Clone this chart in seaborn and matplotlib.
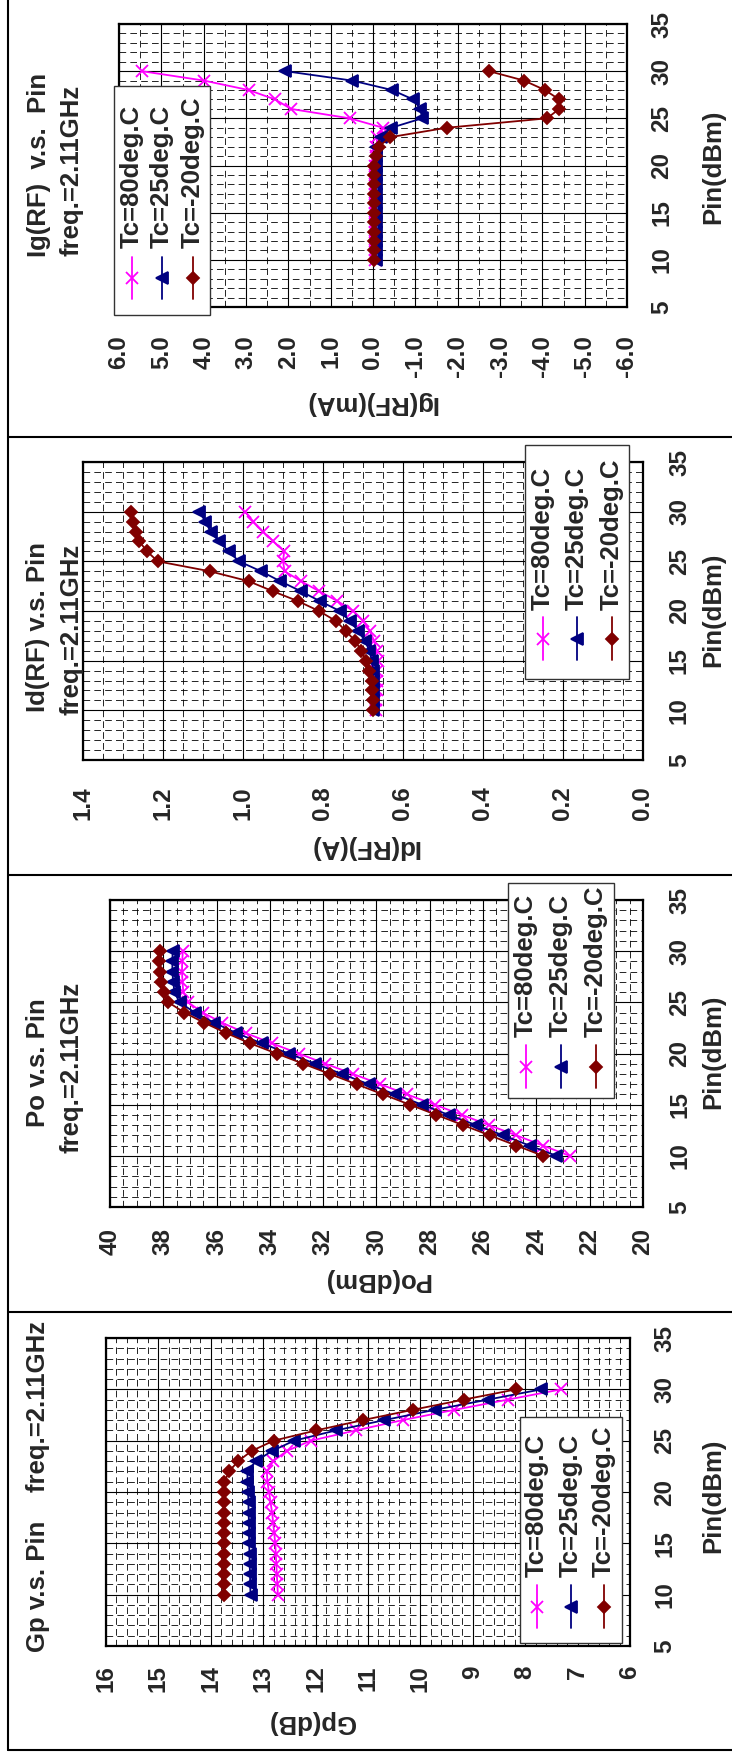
import matplotlib
matplotlib.use('Agg')
import matplotlib.pyplot as plt
from matplotlib.lines import Line2D
from matplotlib.patches import Rectangle
from matplotlib.ticker import MultipleLocator, FormatStrFormatter
import seaborn as sns

# input power sweep (dBm)
pin = [10, 11, 12, 13, 14, 15, 16, 17, 18, 19, 20,
       21, 22, 23, 24, 25, 26, 27, 28, 29, 30]

# Ig(RF) (mA)
ig_80 = [-0.04, -0.04, -0.04, -0.04, -0.04, -0.04, -0.04, -0.04, -0.05, -0.05, -0.05,
         -0.06, -0.08, -0.10, -0.24, 0.55, 1.94, 2.31, 2.94, 3.99, 5.46]
ig_25 = [-0.07, -0.07, -0.07, -0.07, -0.07, -0.07, -0.07, -0.07, -0.07, -0.07, -0.07,
         -0.07, -0.08, -0.18, -0.43, -1.16, -1.12, -0.95, -0.45, 0.49, 2.07]
ig_m20 = [-0.02, -0.02, -0.02, -0.02, -0.02, -0.02, -0.02, -0.02, -0.02, -0.02, -0.02,
          -0.06, -0.14, -0.40, -1.74, -4.11, -4.40, -4.40, -4.06, -3.57, -2.74]

# Id(RF) (A)
id_80 = [0.668, 0.667, 0.666, 0.665, 0.664, 0.663, 0.666, 0.672, 0.683, 0.699, 0.724,
         0.764, 0.810, 0.855, 0.896, 0.900, 0.897, 0.924, 0.950, 0.974, 0.995]
id_25 = [0.674, 0.674, 0.674, 0.674, 0.674, 0.678, 0.684, 0.695, 0.712, 0.733, 0.758,
         0.808, 0.856, 0.907, 0.955, 1.010, 1.036, 1.060, 1.081, 1.094, 1.109]
id_m20 = [0.676, 0.676, 0.677, 0.678, 0.684, 0.693, 0.704, 0.720, 0.743, 0.768, 0.810,
          0.863, 0.926, 0.986, 1.083, 1.213, 1.240, 1.259, 1.268, 1.276, 1.280]

# Po (dBm)
po_80 = [22.75, 23.75, 24.75, 25.78, 26.79, 27.82, 28.85, 29.86, 30.88, 31.92, 32.92,
         33.93, 34.91, 35.79, 36.52, 37.07, 37.25, 37.28, 37.30, 37.29, 37.27]
po_25 = [23.25, 24.25, 25.25, 26.26, 27.29, 28.29, 29.30, 30.30, 31.30, 32.30, 33.30,
         34.31, 35.27, 36.08, 36.82, 37.39, 37.58, 37.63, 37.66, 37.66, 37.65]
po_m20 = [23.75, 24.75, 25.75, 26.75, 27.75, 28.75, 29.75, 30.75, 31.75, 32.75, 33.75,
          34.75, 35.64, 36.46, 37.21, 37.81, 37.99, 38.07, 38.12, 38.15, 38.13]

# Gp (dB)
gp_80 = [12.72, 12.73, 12.74, 12.75, 12.76, 12.77, 12.79, 12.81, 12.83, 12.86, 12.89,
         12.92, 12.93, 12.81, 12.55, 12.09, 11.23, 10.34, 9.35, 8.33, 7.31]
gp_25 = [13.24, 13.25, 13.25, 13.26, 13.26, 13.27, 13.27, 13.27, 13.28, 13.28, 13.29,
         13.30, 13.30, 13.14, 12.83, 12.41, 11.61, 10.69, 9.73, 8.71, 7.69]
gp_m20 = [13.75, 13.75, 13.75, 13.75, 13.75, 13.75, 13.75, 13.75, 13.75, 13.75, 13.75,
          13.74, 13.65, 13.48, 13.22, 12.80, 11.99, 11.10, 10.15, 9.17, 8.17]

names = ['Tc=80deg.C', 'Tc=25deg.C', 'Tc=-20deg.C']
colors = ['#FF00FF', '#000080', '#800000']
markers = ['x', '<', 'D']
msizes = [9, 8, 6.5]

W, H = 732, 1753
FS = 18.5
sns.set_style('white')
plt.rcParams['font.family'] = ['Liberation Sans', 'DejaVu Sans']
plt.rcParams['font.weight'] = 'bold'
plt.rcParams['axes.unicode_minus'] = False

fig = plt.figure(figsize=(W / 100, H / 100), dpi=100)


def fx(x):
    return x / W


def fy(y):
    return 1 - y / H


def txt(x, y, s, rot=90, **kw):
    fig.text(fx(x), fy(y), s, rotation=rot, ha='center', va='center', fontsize=FS, **kw)


def draw_legend(box, cols, text_y, h_top, h_bot, m_y):
    x0, y0, x1, y1 = box
    fig.add_artist(Rectangle((fx(x0), fy(y1)), (x1 - x0) / W, (y1 - y0) / H,
                             transform=fig.transFigure, facecolor='white',
                             edgecolor='#333333', lw=1.0, zorder=5))
    for name, c, mk, ms, cx in zip(names, colors, markers, msizes, cols):
        fig.add_artist(Line2D([fx(cx), fx(cx)], [fy(h_top), fy(h_bot)],
                              transform=fig.transFigure, color=c, lw=1.3, zorder=6))
        fig.add_artist(Line2D([fx(cx)], [fy(m_y)], transform=fig.transFigure,
                              marker=mk, ms=ms, color=c, mec=c, mfc=c,
                              mew=1.3, zorder=7))
        fig.text(fx(cx), fy(text_y), name, rotation=90, ha='center', va='bottom',
                 fontsize=FS, zorder=7)


def panel(box, values, lim, major, minor, fmt, xpad, ypad):
    x0, y0, x1, y1 = box
    ax = fig.add_axes([fx(x0), fy(y1), (x1 - x0) / W, (y1 - y0) / H])
    for vals, c, mk, ms in zip(values, colors, markers, msizes):
        sns.lineplot(x=vals, y=pin, orient='y', ax=ax, color=c, lw=1.3,
                     marker=mk, markersize=ms, markeredgecolor=c,
                     markerfacecolor=c, markeredgewidth=1.3)
    ax.set_xlim(lim)
    ax.set_ylim(5, 35)
    ax.set_xlabel('')
    ax.set_ylabel('')
    ax.xaxis.set_major_locator(MultipleLocator(major))
    ax.xaxis.set_minor_locator(MultipleLocator(minor))
    ax.xaxis.set_major_formatter(FormatStrFormatter(fmt))
    ax.yaxis.set_major_locator(MultipleLocator(5))
    ax.yaxis.set_minor_locator(MultipleLocator(1))
    ax.yaxis.tick_right()
    ax.set_axisbelow(True)
    ax.grid(which='major', color='black', lw=0.8, ls='-')
    ax.grid(which='minor', color='black', lw=0.6, ls=(0, (8, 5)))
    ax.tick_params(which='both', length=0)
    ax.tick_params(axis='x', labelrotation=90, pad=xpad, labelsize=17.5)
    ax.tick_params(axis='y', labelrotation=90, pad=ypad, labelsize=17.5)
    plt.setp(ax.get_yticklabels(), va='center')
    for s in ax.spines.values():
        s.set_color('black')
        s.set_linewidth(1.6)
    return ax


# Ig panel (top)
panel((119, 24, 627, 307), [ig_80, ig_25, ig_m20], (6, -6), 1.0, 0.5, '%.1f', 20, 17)
txt(39, 165, 'Ig(RF)  v.s.  Pin')
txt(71, 170, 'freq.=2.11GHz')
txt(371, 403, 'Ig(RF)(mA)', rot=180)
txt(713, 167, 'Pin(dBm)')
draw_legend((114, 86, 210, 315), [132, 162, 193], 248, 257, 299, 278)

# Id panel
panel((83, 462, 643, 760), [id_80, id_25, id_m20], (1.4, 0.0), 0.2, 0.05, '%.1f', 19, 18)
txt(38, 627, 'Id(RF) v.s. Pin')
txt(71, 629, 'freq.=2.11GHz')
txt(364, 847, 'Id(RF)(A)', rot=180)
txt(713, 610, 'Pin(dBm)')
draw_legend((525, 445, 629, 679), [543, 577, 612], 610, 617, 660, 639)

# Po panel
panel((110, 900, 643, 1207), [po_80, po_25, po_m20], (40, 20), 2, 0.5, '%d', 15, 18)
txt(38, 1063, 'Po v.s. Pin')
txt(71, 1067, 'freq.=2.11GHz')
txt(377, 1280, 'Po(dBm)', rot=180)
txt(713, 1052, 'Pin(dBm)')
draw_legend((508, 883, 614, 1098), [526, 561, 596], 1037, 1045, 1088, 1067)

# Gp panel (bottom)
panel((106, 1338, 630, 1646), [gp_80, gp_25, gp_m20], (16, 6), 1, 0.2, '%d', 14, 17)
txt(38, 1486, 'Gp v.s. Pin    freq.=2.11GHz')
txt(312, 1722, 'Gp(dB)', rot=180)
txt(713, 1496, 'Pin(dBm)')
draw_legend((520, 1417, 622, 1643), [537, 571, 604], 1577, 1585, 1628, 1607)

# sheet frame lines
fig.add_artist(Line2D([fx(8), fx(8)], [fy(0), fy(1750)], transform=fig.transFigure, color='black', lw=1.5))
for yy in [437, 875, 1312, 1750]:
    fig.add_artist(Line2D([fx(8), fx(732)], [fy(yy), fy(yy)], transform=fig.transFigure, color='black', lw=1.5))

fig.savefig('out.png', dpi=100)
